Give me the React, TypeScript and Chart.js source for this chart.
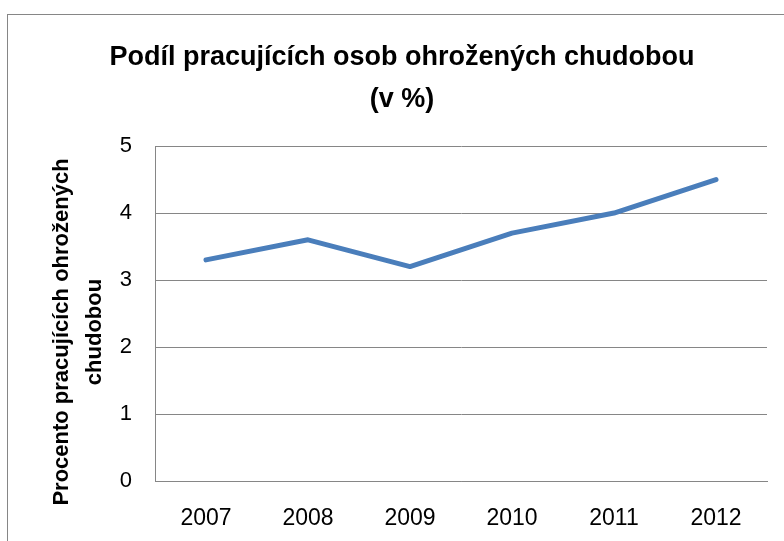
import React, { useEffect, useRef } from "react";
import { Chart, registerables } from "chart.js";

Chart.register(...registerables);

const categories = ["2007", "2008", "2009", "2010", "2011", "2012"];
const values = [3.3, 3.6, 3.2, 3.7, 4.0, 4.5];
const titleLines = ["Podíl pracujících osob ohrožených chudobou", "(v %)"];
const yTitleLines = ["Procento pracujících ohrožených", "chudobou"];
const FONT = "'Liberation Sans', Arial, sans-serif";

const borderPlugin = {
  id: "outerBorder",
  beforeDraw(chart: any) {
    const ctx = chart.ctx;
    ctx.save();
    ctx.fillStyle = "#ffffff";
    ctx.fillRect(0, 0, chart.width, chart.height);
    ctx.strokeStyle = "#868686";
    ctx.lineWidth = 1;
    ctx.strokeRect(7.5, 14.5, 900, 700);
    ctx.restore();
  },
};

const yTitlePlugin = {
  id: "yTitle",
  afterDraw(chart: any) {
    const ctx = chart.ctx;
    ctx.save();
    ctx.fillStyle = "#000";
    ctx.font = `bold 22px ${FONT}`;
    ctx.textAlign = "center";
    ctx.textBaseline = "middle";
    ctx.translate(62, 332);
    ctx.rotate(-Math.PI / 2);
    yTitleLines.forEach((line, i) => {
      ctx.fillText(line, 0, i * 33);
    });
    ctx.restore();
  },
};

export default function App() {
  const ref = useRef<HTMLCanvasElement>(null);
  useEffect(() => {
    if (!ref.current) return;
    const chart = new Chart(ref.current, {
      type: "line",
      data: {
        labels: categories,
        datasets: [
          {
            data: values,
            borderColor: "#4A7EBB",
            borderWidth: 5,
            pointRadius: 0,
            tension: 0,
            borderCapStyle: "round",
            borderJoinStyle: "round",
          },
        ],
      },
      options: {
        animation: false,
        responsive: false,
        layout: { padding: { left: 37, right: 17, top: 0, bottom: 0 } },
        plugins: {
          legend: { display: false },
          tooltip: { enabled: false },
          title: {
            display: true,
            text: titleLines,
            color: "#000",
            font: { family: FONT, size: 27, weight: "bold", lineHeight: 1.556 },
            padding: { top: 37, bottom: 25 },
          },
        },
        scales: {
          x: {
            offset: true,
            grid: { display: false, drawTicks: false, offset: true },
            border: { display: true, color: "#868686", width: 1 },
            ticks: { color: "#000", font: { family: FONT, size: 23 }, padding: 24, maxRotation: 0 },
            afterFit(scale: any) {
              scale.height = 60;
            },
          },
          y: {
            min: 0,
            max: 5,
            ticks: { stepSize: 1, color: "#000", font: { family: FONT, size: 22 }, padding: 23 },
            grid: { color: "#868686", drawTicks: false, lineWidth: 1 },
            border: { display: true, color: "#868686", width: 1 },
            afterFit(scale: any) {
              scale.width = 118;
            },
          },
        },
      },
      plugins: [borderPlugin, yTitlePlugin],
    });
    return () => chart.destroy();
  }, []);
  return (
    <div style={{ position: "fixed", left: 0, top: 0, width: 784, height: 541 }}>
      <canvas ref={ref} width={784} height={541} style={{ width: 784, height: 541 }} />
    </div>
  );
}
